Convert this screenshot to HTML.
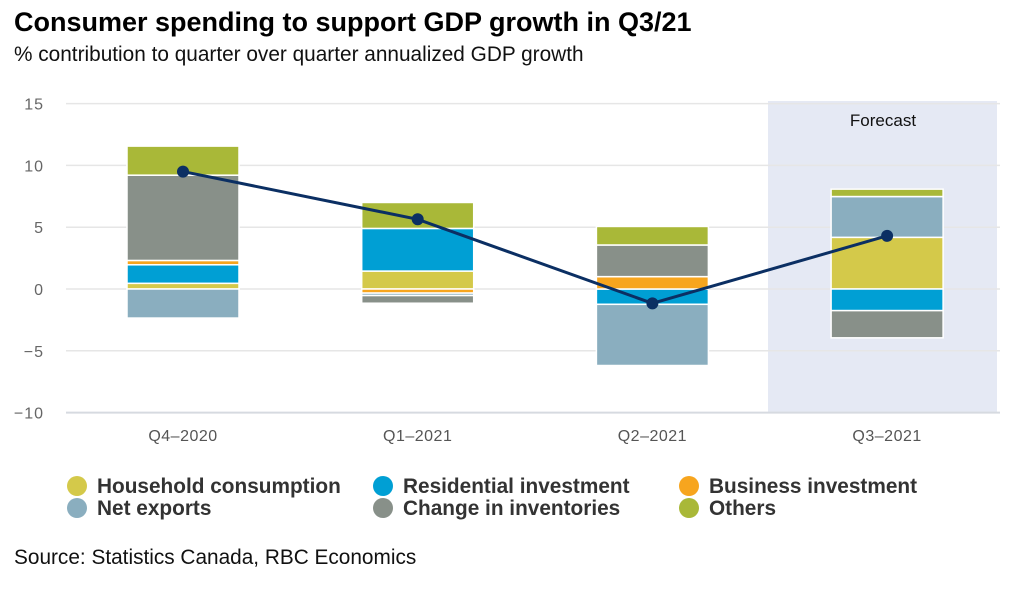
<!DOCTYPE html>
<html><head><meta charset="utf-8">
<style>
body{margin:0;background:#fff;width:1019px;height:585px;overflow:hidden;font-family:"Liberation Sans",sans-serif;}
svg text{font-family:"Liberation Sans",sans-serif;}
</style></head>
<body>
<svg width="1019" height="585">
<text x="14" y="31" font-size="27" font-weight="bold" fill="#000">Consumer spending to support GDP growth in Q3/21</text>
<text x="14" y="61" font-size="20.8" fill="#111">% contribution to quarter over quarter annualized GDP growth</text>
<g id="plot"></g>
<g id="legend"></g>
<text x="14" y="564" font-size="20.8" fill="#111">Source: Statistics Canada, RBC Economics</text>
</svg>
<script>
const categories = ["Q4–2020","Q1–2021","Q2–2021","Q3–2021"];
const seriesNames = ["Household consumption","Residential investment","Business investment","Net exports","Change in inventories","Others"];
const household = [0.46, 1.45, 0, 4.18];
const residential = [1.5, 3.45, -1.24, -1.75];
const business = [0.35, -0.33, 1.0, 0];
const netExports = [-2.35, -0.2, -4.95, 3.3];
const inventories = [6.9, -0.62, 2.56, -2.2];
const others = [2.35, 2.1, 1.5, 0.6];
const gdp = [9.5, 5.64, -1.16, 4.3];
const yTicks = [15,10,5,0,-5,-10];

const colors = ["#d4c94a","#009fd4","#f7a51e","#8aaebf","#889089","#a9b838"];
const series = [household,residential,business,netExports,inventories,others];
const NS = "http://www.w3.org/2000/svg";
const plot = document.getElementById('plot');
const y0 = 289, ppu = 12.36;
const y = v => y0 - v*ppu;
const xC = i => 183 + i*234.7;
const bw = 112;
function mk(tag, attrs, parent){const e=document.createElementNS(NS,tag);for(const k in attrs)e.setAttribute(k,attrs[k]);(parent||plot).appendChild(e);return e;}

const band = mk('rect',{x:768,y:101,width:229,height:311,fill:"#e5e9f4"});


const ft = mk('text',{x:883,y:126,'font-size':17,'text-anchor':'middle',fill:'#111'});
ft.textContent='Forecast';



yTicks.forEach(t=>{
  const gl = mk('line',{x1:66,x2:1000,y1:y(t),y2:y(t),stroke:t===-10?"#d6dae0":"#e6e6e6",'stroke-width':t===-10?2:1.5});
  
  
  const tl = mk('text',{x:44,y:y(t)+6,'font-size':16,'text-anchor':'end',fill:'#666','letter-spacing':'1'});
  tl.textContent = t<0 ? '−'+Math.abs(t) : String(t);
  
  
});

categories.forEach((c,i)=>{
  let pos=0, neg=0;
  series.forEach((s,k)=>{
    const v=s[i]; if(!v) return;
    let top,bot;
    if(v>0){bot=pos;top=pos+v;pos=top;}else{top=neg;bot=neg+v;neg=bot;}
    const r = mk('rect',{x:xC(i)-bw/2,y:y(top),width:bw,height:Math.max(0,y(bot)-y(top)),fill:colors[k],stroke:'#fff','stroke-width':1.5});
    
    
  });
  const xl = mk('text',{x:xC(i),y:441,'font-size':16,'text-anchor':'middle',fill:'#555','letter-spacing':'0.5'});
  xl.textContent=c;
  
  
});

const pts = gdp.map((v,i)=>xC(i)+','+y(v)).join(' ');
const line = mk('polyline',{points:pts,fill:'none',stroke:'#0b2f63','stroke-width':3});


gdp.forEach((v,i)=>{
  const d = mk('circle',{cx:xC(i),cy:y(v),r:6,fill:'#0b2f63'});
  
  
});

const leg = document.getElementById('legend');
const lx=[77,383,689], ly=[486,508];
seriesNames.forEach((n,k)=>{
  const cx=lx[k%3], cy=ly[Math.floor(k/3)];
  const c = mk('circle',{cx:cx,cy:cy,r:10,fill:colors[k]},leg);
  
  
  const t = mk('text',{x:cx+20,y:cy+7,'font-size':20.8,'font-weight':'bold',fill:'#333'},leg);
  t.textContent=n;
  
  
});
</script>
</body></html>
